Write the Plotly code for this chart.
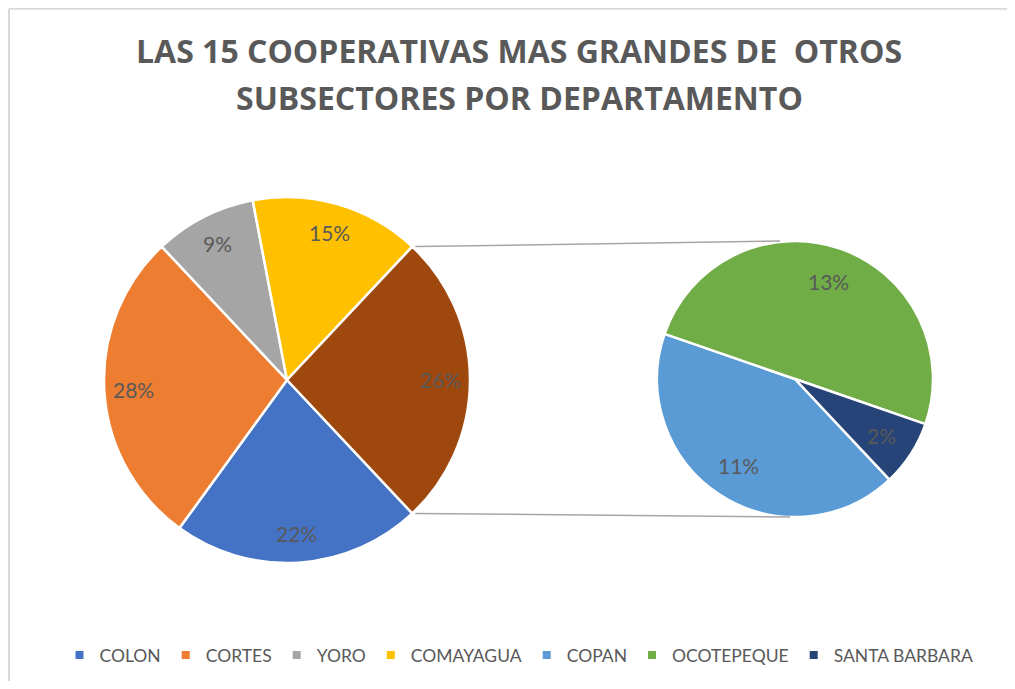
import math
import plotly.graph_objects as go

# porcentajes sobre el total
main_labels = ["COLON", "CORTES", "YORO", "COMAYAGUA"]
main_values = [22, 28, 9, 15]
sub_labels = ["COPAN", "OCOTEPEQUE", "SANTA BARBARA"]
sub_values = [11, 13, 2]
other_label = "OTROS"

main_colors = ["#4472C4", "#ED7D31", "#A5A5A5", "#FFC000"]
other_color = "#9E480E"
sub_colors = ["#5B9BD5", "#70AD47", "#264478"]

title_lines = ["LAS 15 COOPERATIVAS MAS GRANDES DE  OTROS",
               "SUBSECTORES POR DEPARTAMENTO"]

# la pagina tiene 8px de margen alrededor de la figura
OFF = 8
W, H = 1015 - 2 * OFF, 689 - 2 * OFF
TXT = "#595959"
FONT = "Lato"

# geometria (pixeles de ventana): centro y radio de cada pastel
c1, r1 = (287, 380), 183
c2, r2 = (795, 379), 138


def px(x):
    return (x - OFF) / W


def py(y):
    return 1 - (y - OFF) / H


def domain(c, r):
    return dict(x=[px(c[0] - r), px(c[0] + r)], y=[py(c[1] + r), py(c[1] - r)])


other_total = sum(sub_values)
pie_labels = main_labels + [other_label]
pie_values = main_values + [other_total]
total = sum(pie_values)
half = 180 * other_total / total  # medio angulo del sector "otros"
rot = 90 + half

fig = go.Figure()

fig.add_trace(go.Pie(
    labels=pie_labels, values=pie_values, textinfo="none",
    marker=dict(colors=main_colors + [other_color], line=dict(color="white", width=2.5)),
    sort=False, direction="clockwise", rotation=rot,
    domain=domain(c1, r1), showlegend=False, hoverinfo="label+value",
))

fig.add_trace(go.Pie(
    labels=sub_labels, values=sub_values, textinfo="none",
    marker=dict(colors=sub_colors, line=dict(color="white", width=2.5)),
    sort=False, direction="clockwise", rotation=rot,
    domain=domain(c2, r2), showlegend=False, hoverinfo="label+value",
))

# leyenda
for lab, col in zip(main_labels + sub_labels, main_colors + sub_colors):
    fig.add_trace(go.Scatter(
        x=[None], y=[None], mode="markers", name=lab,
        marker=dict(symbol="square", size=8, color=col),
    ))

annotations = []


# etiquetas de porcentaje, cerca del borde de cada sector
def add_labels(values, c, r, frac):
    tot = sum(values)
    start = -half
    for v in values:
        ang = start - 180 * v / tot
        start -= 360 * v / tot
        a = math.radians(ang)
        x = c[0] + frac * r * math.cos(a)
        y = c[1] - frac * r * math.sin(a)
        annotations.append(dict(
            text=f"{v}%", xref="paper", yref="paper", x=px(x), y=py(y),
            xanchor="center", yanchor="middle", showarrow=False,
            font=dict(family=FONT, size=21, color=TXT),
        ))


add_labels(pie_values, c1, r1, 0.84)
add_labels(sub_values, c2, r2, 0.75)

# lineas de conexion entre los dos pasteles
a = math.radians(half)
p_top = (c1[0] + r1 * math.cos(a), c1[1] - r1 * math.sin(a))
p_bot = (c1[0] + r1 * math.cos(a), c1[1] + r1 * math.sin(a))
shapes = []
for p, q in [(p_top, (c2[0] - 15, c2[1] - r2)), (p_bot, (c2[0] - 5, c2[1] + r2))]:
    shapes.append(dict(type="line", xref="paper", yref="paper",
                       x0=px(p[0] + 3), y0=py(p[1]), x1=px(q[0]), y1=py(q[1]),
                       line=dict(color="#A6A6A6", width=1.5)))
# borde del area del grafico (solo arriba e izquierda quedan a la vista)
shapes.append(dict(type="line", xref="paper", yref="paper",
                   x0=0.001, y0=0.999, x1=1, y1=0.999,
                   line=dict(color="#D9D9D9", width=2)))
shapes.append(dict(type="line", xref="paper", yref="paper",
                   x0=0.001, y0=0, x1=0.001, y1=0.999,
                   line=dict(color="#D9D9D9", width=2)))

for i, t in enumerate(title_lines):
    annotations.append(dict(
        text=f"<b>{t}</b>", xref="paper", yref="paper",
        x=px(519), y=py(50 + 48 * i), xanchor="center", yanchor="middle",
        showarrow=False, font=dict(family="Open Sans", size=32, color=TXT),
    ))

fig.update_layout(
    width=W, height=H,
    margin=dict(l=0, r=0, t=0, b=0),
    paper_bgcolor="white", plot_bgcolor="white",
    xaxis=dict(visible=False), yaxis=dict(visible=False),
    shapes=shapes, annotations=annotations,
    legend=dict(orientation="h", x=px(519), xanchor="center", y=py(655), yanchor="middle",
                font=dict(family=FONT, size=17.5, color=TXT), itemwidth=30,
                traceorder="normal"),
)

fig.write_html("out.html")
